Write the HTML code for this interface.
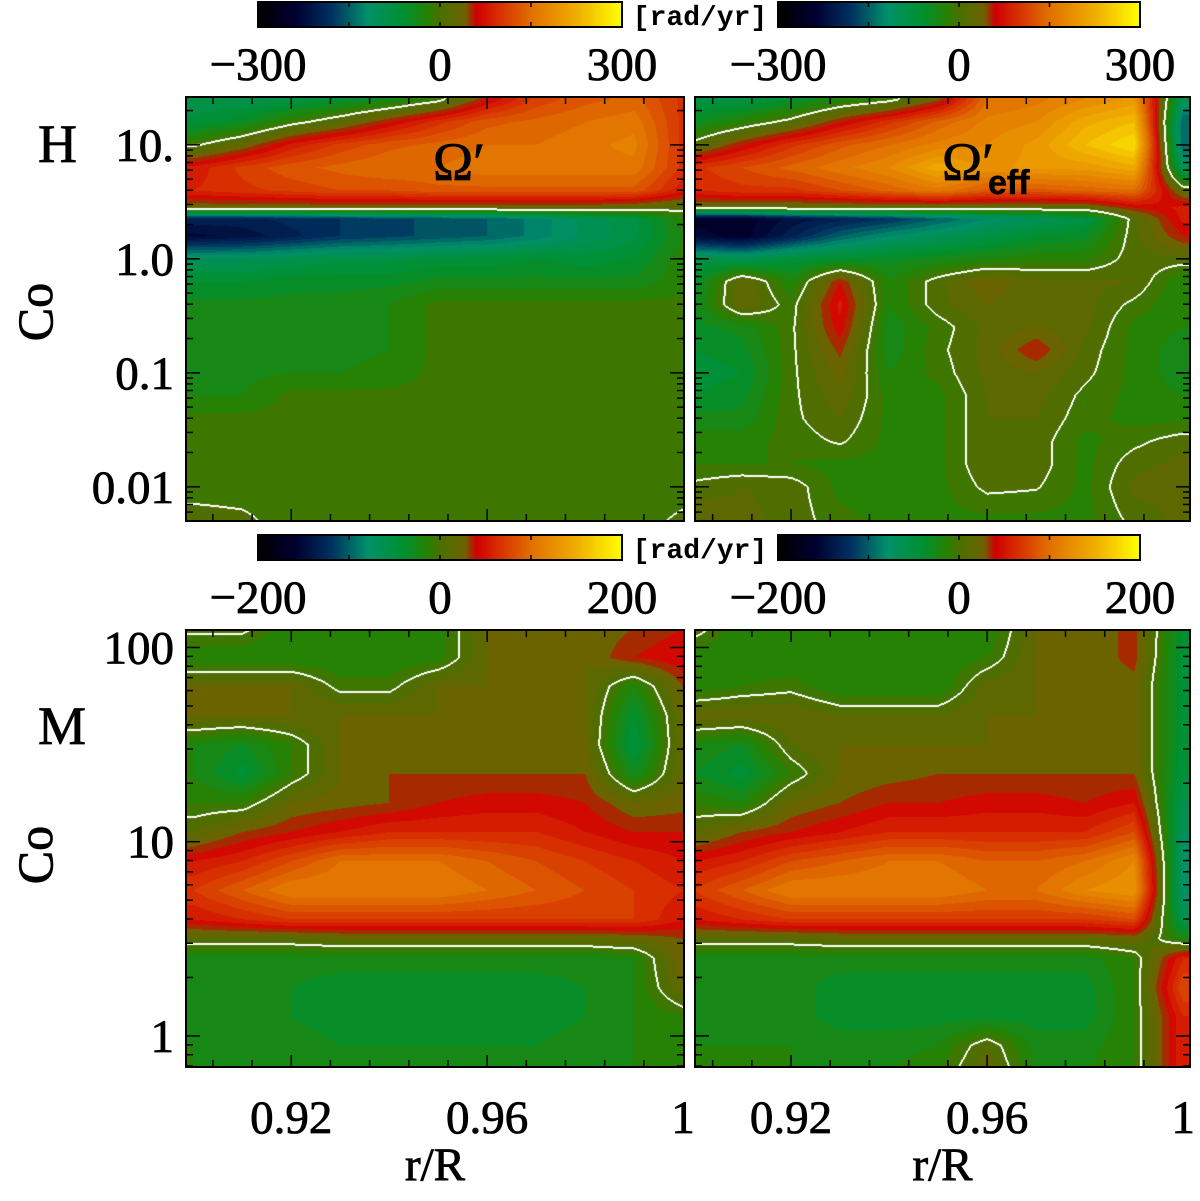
<!DOCTYPE html>
<html><head><meta charset="utf-8">
<style>
html,body{margin:0;padding:0;background:#fff;}
#wrap{position:relative;width:1200px;height:1201px;overflow:hidden;background:#fff;}
canvas{position:absolute;}
svg{position:absolute;left:0;top:0;}
</style></head>
<body>
<div id="wrap">
<canvas id="cTL" style="left:186px;top:97px" width="498" height="424"></canvas>
<canvas id="cTR" style="left:695px;top:97px" width="495" height="424"></canvas>
<canvas id="cBL" style="left:186px;top:630px" width="498" height="437"></canvas>
<canvas id="cBR" style="left:695px;top:630px" width="495" height="437"></canvas>
<canvas id="cb1" style="left:258px;top:2px" width="364" height="25"></canvas>
<canvas id="cb2" style="left:778px;top:2px" width="362" height="25"></canvas>
<canvas id="cb3" style="left:258px;top:535px" width="364" height="25"></canvas>
<canvas id="cb4" style="left:778px;top:535px" width="362" height="25"></canvas>
<svg id="ov" width="1200" height="1201"></svg>
</div>
<script>
// ---- data ----
const rCols = [0.90,0.91,0.92,0.93,0.94,0.95,0.96,0.97,0.98,0.99,1.00];
const logCoH = [1.4,1.2,1.0,0.8,0.6,0.45,0.35,0.2,0.0,-0.2,-0.4,-0.6,-0.8,-1.0,-1.2,-1.4,-1.6,-1.8,-2.0,-2.3];
const logCoM = [2.1,1.95,1.8,1.65,1.5,1.35,1.2,1.05,0.9,0.75,0.6,0.5,0.4,0.25,0.1,-0.05,-0.2];
const omegaH = [
[-90,-90,-80,-60,-40,-10,60,110,130,140,100],
[-70,-50,-10,20,60,100,130,140,150,160,100],
[-5,30,80,110,130,140,150,150,160,170,100],
[80,110,130,140,150,150,160,160,160,160,100],
[90,100,110,120,120,130,130,130,130,130,80],
[30,30,30,30,30,30,30,30,30,20,10],
[-200,-200,-190,-180,-170,-160,-150,-130,-100,-80,-20],
[-230,-220,-200,-180,-170,-160,-150,-130,-100,-80,-30],
[-100,-100,-90,-80,-80,-70,-70,-60,-70,-60,-20],
[-60,-60,-50,-50,-50,-40,-40,-40,-40,-40,-20],
[-40,-40,-40,-40,-30,-10,-10,-10,-10,-10,-10],
[-40,-40,-40,-40,-30,-10,-10,-10,-10,-10,-10],
[-40,-40,-35,-35,-30,-10,-10,-10,-10,-10,-10],
[-35,-35,-30,-30,-25,-10,-10,-10,-10,-10,-10],
[-30,-30,-10,-10,-10,-10,-10,-10,-10,-10,-10],
[-10,-10,-10,-10,-10,-10,-10,-10,-10,-10,-10],
[-10,-10,-10,-10,-10,-10,-10,-10,-10,-10,-10],
[-10,-10,-10,-10,-10,-10,-10,-10,-10,-10,-10],
[-10,-10,-10,-10,-10,-10,-10,-10,-10,-10,-10],
[10,5,-10,-10,-10,-10,-10,-10,-10,-10,5]];
const omegaEffH = [
[-80,-80,-60,-30,-10,40,150,160,180,200,-100],
[-50,-20,10,60,100,140,170,180,220,240,-150],
[10,60,100,130,150,170,180,200,240,270,-150],
[100,120,140,160,180,220,190,200,200,220,-100],
[90,100,100,120,140,160,130,130,140,150,20],
[20,20,20,20,20,20,20,20,20,60,80],
[-250,-250,-220,-200,-180,-150,-120,-100,-80,10,80],
[-230,-250,-200,-150,-120,-100,-80,-60,-50,10,60],
[-80,-90,-70,-60,-50,-40,-30,-20,-20,10,10],
[-60,30,-30,60,-30,10,40,20,20,15,-30],
[-50,30,-10,80,-30,10,30,20,20,-5,-30],
[-50,-40,-5,70,-40,-10,20,30,20,-20,-30],
[-60,-50,-5,50,-40,-5,20,60,10,-20,-40],
[-70,-60,-5,35,-30,-10,20,30,5,-20,-40],
[-60,-50,-5,25,-20,-20,15,20,-5,-20,-30],
[-40,-40,-5,15,-20,-20,15,15,-10,-20,-20],
[-20,-20,-10,3,-20,-20,15,10,-20,-5,10],
[-15,-15,-15,-20,-20,-20,15,10,-20,10,20],
[5,15,10,-20,-20,-20,5,2,-20,20,20],
[30,20,10,-10,-20,-20,-20,-20,-20,5,20]];
const omegaM = [
[5,5,-20,-20,-20,-15,20,20,20,30,40],
[-20,-20,-20,-20,-20,-15,20,20,20,40,50],
[20,20,20,-5,-5,20,20,20,20,-20,30],
[20,20,20,20,20,20,20,20,20,-40,20],
[-20,-30,-10,20,20,20,20,20,20,-50,20],
[-20,-45,-10,20,30,30,30,30,30,-30,20],
[-10,-10,20,25,30,40,45,45,40,20,25],
[10,30,40,50,60,60,60,60,50,40,40],
[50,60,80,100,100,100,90,80,70,60,50],
[70,90,110,110,110,110,100,90,80,70,60],
[50,60,70,70,70,70,70,70,70,70,50],
[10,10,10,15,15,15,15,15,15,20,30],
[-25,-25,-25,-25,-25,-25,-25,-25,-25,-20,30],
[-25,-30,-30,-35,-35,-35,-35,-35,-30,-20,20],
[-25,-30,-30,-35,-35,-35,-35,-35,-30,-20,-10],
[-20,-25,-25,-30,-30,-30,-30,-30,-25,-20,-20],
[-20,-20,-20,-20,-20,-20,-20,-20,-20,-20,-20]];
const omegaEffM = [
[10,-20,-20,-20,-20,-20,-20,20,20,35,-40],
[-20,-20,-20,-20,-20,-20,-10,20,20,35,-45],
[-20,-10,-5,-20,-20,-20,15,20,20,25,-45],
[20,20,20,10,10,10,20,20,20,25,-45],
[-20,-30,10,20,20,20,20,20,20,25,-45],
[-30,-45,-10,20,25,30,30,30,30,30,-50],
[-10,-20,20,30,40,40,45,45,40,50,-60],
[10,30,40,50,60,60,60,60,60,80,-70],
[50,60,80,90,100,100,90,90,100,120,-80],
[70,90,110,110,110,110,100,100,120,130,-80],
[50,60,70,70,70,70,70,70,70,80,-60],
[10,10,10,15,15,15,15,15,15,20,-20],
[-25,-25,-25,-25,-25,-25,-25,-25,-25,-10,60],
[-25,-25,-25,-35,-35,-35,-35,-35,-35,-10,80],
[-20,-25,-25,-35,-35,-35,-35,-35,-35,-10,60],
[-20,-20,-20,-25,-25,-20,10,-25,-25,-10,60],
[-20,-20,-20,-20,-20,-10,20,-20,-20,-10,60]];
const cbTicksH = [-300,0,300];
const cbTicksM = [-200,0,200];
const xTicks = [0.92,0.96,1];
const xTickLabels = ["0.92","0.96","1"];
const yTicksH = [1,0,-1,-2];
const yTickLabelsH = ["10.","1.0","0.1","0.01"];
const yTicksM = [2,1,0];
const yTickLabelsM = ["100","10","1"];

// ---- colormap ----
const stops=[[0,0,0,0],[0.1,0,0,48],[0.2,0,48,96],[0.3,0,144,106],[0.4,0,144,48],[0.47,42,128,0],[0.5,74,112,0],[0.57,110,98,0],[0.6,208,0,0],[0.75,224,112,0],[0.88,240,176,0],[1,255,255,0]];
function cmap(t){t=Math.max(0,Math.min(1,t));for(let i=0;i<stops.length-1;i++){const a=stops[i],b=stops[i+1];if(t<=b[0]){const f=(t-a[0])/(b[0]-a[0]);return [a[1]+f*(b[1]-a[1]),a[2]+f*(b[2]-a[2]),a[3]+f*(b[3]-a[3])];}}return [255,255,0];}

function sample(grid,rows,r,lg){
  let j=(r-rCols[0])/(rCols[1]-rCols[0]);j=Math.max(0,Math.min(rCols.length-1.0001,j));
  const j0=Math.floor(j),fj=j-j0;
  let i=0;
  if(lg>=rows[0]){i=0;}else if(lg<=rows[rows.length-1]){i=rows.length-2;}
  else{while(i<rows.length-2&&lg<rows[i+1])i++;}
  let fi=(rows[i]-lg)/(rows[i]-rows[i+1]);fi=Math.max(0,Math.min(1,fi));
  const a=grid[i][j0]*(1-fj)+grid[i][j0+1]*fj;
  const b=grid[i+1][j0]*(1-fj)+grid[i+1][j0+1]*fj;
  return a*(1-fi)+b*fi;
}
function drawPanel(id,grid,rows,rmin,rmax,ltop,lbot,vmax){
  const c=document.getElementById(id),w=c.width,h=c.height,ctx=c.getContext('2d');
  const img=ctx.createImageData(w,h),v=new Float32Array(w*h),step=vmax/20;
  for(let y=0;y<h;y++){const lg=ltop+(lbot-ltop)*(y+0.5)/h;
    for(let x=0;x<w;x++){const r=rmin+(rmax-rmin)*(x+0.5)/w;v[y*w+x]=sample(grid,rows,r,lg);}}
  for(let p=0;p<w*h;p++){const q=(Math.floor(v[p]/step)+0.5)*step;const col=cmap(0.5+q/(2*vmax));
    img.data[p*4]=col[0];img.data[p*4+1]=col[1];img.data[p*4+2]=col[2];img.data[p*4+3]=255;}
  for(let y=0;y<h;y++)for(let x=0;x<w;x++){const p=y*w+x,s=v[p]>0;
    const marks=[];
    if(x<w-1&&(v[p+1]>0)!==s){marks.push(p,p+1);}
    if(y<h-1&&(v[p+w]>0)!==s){marks.push(p,p+w);}
    for(const m of marks){img.data[m*4]=255;img.data[m*4+1]=255;img.data[m*4+2]=255;}}
  ctx.putImageData(img,0,0);
}
drawPanel('cTL',omegaH,logCoH,0.8985,1.0002,1.42,-2.3,300);
drawPanel('cTR',omegaEffH,logCoH,0.9004,1.0014,1.42,-2.3,300);
drawPanel('cBL',omegaM,logCoM,0.8985,1.0002,2.09,-0.16,200);
drawPanel('cBR',omegaEffM,logCoM,0.9004,1.0014,2.09,-0.16,200);
function drawBar(id){const c=document.getElementById(id),ctx=c.getContext('2d');
  for(let x=0;x<c.width;x++){const col=cmap(x/(c.width-1));ctx.fillStyle='rgb('+col.map(Math.round).join(',')+')';ctx.fillRect(x,0,1,c.height);}}
['cb1','cb2','cb3','cb4'].forEach(drawBar);

// ---- overlay ----
const NS='http://www.w3.org/2000/svg',ov=document.getElementById('ov');
function el(tag,attrs,txt){const e=document.createElementNS(NS,tag);for(const k in attrs)e.setAttribute(k,attrs[k]);if(txt!==undefined)e.textContent=txt;ov.appendChild(e);return e;}
const numStyle={'font-family':'Liberation Serif, serif','font-size':47,stroke:'#000','stroke-width':0.8};
const panels=[
 {x0:186,x1:684,y0:97,y1:521,rmin:0.8985,rmax:1.0002,lt:1.42,lb:-2.3,yt:yTicksH,yl:yTickLabelsH,left:true,bottom:false},
 {x0:695,x1:1190,y0:97,y1:521,rmin:0.9004,rmax:1.0014,lt:1.42,lb:-2.3,yt:yTicksH,yl:yTickLabelsH,left:false,bottom:false},
 {x0:186,x1:684,y0:630,y1:1067,rmin:0.8985,rmax:1.0002,lt:2.09,lb:-0.16,yt:yTicksM,yl:yTickLabelsM,left:true,bottom:true},
 {x0:695,x1:1190,y0:630,y1:1067,rmin:0.9004,rmax:1.0014,lt:2.09,lb:-0.16,yt:yTicksM,yl:yTickLabelsM,left:false,bottom:true}];
panels.forEach(P=>{
  const xs=r=>P.x0+(r-P.rmin)/(P.rmax-P.rmin)*(P.x1-P.x0);
  const ys=l=>P.y0+(P.lt-l)/(P.lt-P.lb)*(P.y1-P.y0);
  const fr=el('rect',{x:P.x0,y:P.y0,width:P.x1-P.x0,height:P.y1-P.y0,fill:'none',stroke:'#000','stroke-width':2});
  
  
  for(let r=0.904;r<1.0;r+=0.008){const X=xs(r),maj=xTicks.some(t=>Math.abs(t-r)<1e-4);const L=maj?12:7;
    el('line',{x1:X,y1:P.y1,x2:X,y2:P.y1-L,stroke:'#000','stroke-width':1.5});
    el('line',{x1:X,y1:P.y0,x2:X,y2:P.y0+L,stroke:'#000','stroke-width':1.5});}
  for(let d=-3;d<=2;d++)for(let m=1;m<10;m++){const l=d+Math.log10(m);if(l>P.lt||l<P.lb)continue;const Y=ys(l),L=m===1?14:7;
    el('line',{x1:P.x0,y1:Y,x2:P.x0+L,y2:Y,stroke:'#000','stroke-width':1.5});
    el('line',{x1:P.x1,y1:Y,x2:P.x1-L,y2:Y,stroke:'#000','stroke-width':1.5});}
  if(P.left){P.yt.forEach((t,i)=>{const e=el('text',Object.assign({x:P.x0-12,y:ys(t)+16,'text-anchor':'end'},numStyle),P.yl[i]);
    
    });}
  if(P.bottom){xTicks.forEach((t,i)=>{const e=el('text',Object.assign({x:xs(t),y:1133,'text-anchor':'middle'},numStyle),xTickLabels[i]);
    
    });
    const e=el('text',Object.assign({x:(P.x0+P.x1)/2,y:1180,'text-anchor':'middle'},numStyle),'r/R');
    
    }
});
// colorbars
const bars=[{x0:258,x1:622,y0:2,ly:80,t:cbTicksH,m:300},{x0:778,x1:1140,y0:2,ly:80,t:cbTicksH,m:300},{x0:258,x1:622,y0:535,ly:613,t:cbTicksM,m:200},{x0:778,x1:1140,y0:535,ly:613,t:cbTicksM,m:200}];
bars.forEach(B=>{
  const bx=v=>B.x0+(v+B.m)/(2*B.m)*(B.x1-B.x0);
  const fr=el('rect',{x:B.x0,y:B.y0,width:B.x1-B.x0,height:25,fill:'none',stroke:'#000','stroke-width':2});
  
  
  [-B.m/2,0,B.m/2].forEach(v=>{el('line',{x1:bx(v),y1:B.y0,x2:bx(v),y2:B.y0+5,stroke:'#000','stroke-width':1.5});el('line',{x1:bx(v),y1:B.y0+25,x2:bx(v),y2:B.y0+20,stroke:'#000','stroke-width':1.5});});
  B.t.forEach(v=>{const e=el('text',Object.assign({x:bx(v),y:B.ly,'text-anchor':'middle'},numStyle),v<0?'\u2212'+(-v):String(v));
    
    });
});
[[700,25],[700,558]].forEach(p=>{const e=el('text',{x:p[0],y:p[1],'text-anchor':'middle','font-family':'Liberation Mono, monospace','font-size':28,'font-weight':'bold'},'[rad/yr]');
  
  });
function lab(name,x,y,txt,size,extra){const e=el('text',Object.assign({x:x,y:y,'font-family':'Liberation Serif, serif','font-size':size,stroke:'#000','stroke-width':0.8},extra||{}),txt);
  
  return e;}
lab('row-label-h',38,162,'H',54);
lab('row-label-m',38,744,'M',54);
lab('y-axis-title-top',52,312,'Co',50,{transform:'rotate(-90 52 312)','text-anchor':'middle'});
lab('y-axis-title-bottom',52,855,'Co',50,{transform:'rotate(-90 52 855)','text-anchor':'middle'});
lab('panel-title-omega',433,180,'\u03A9\u2032',54);
lab('panel-title-omega-eff',942,180,'\u03A9\u2032',54);
lab('panel-title-eff-subscript',988,194,'eff',34,{'font-weight':'bold','font-family':'Liberation Sans, sans-serif','stroke-width':0.5});
</script>
</body></html>
